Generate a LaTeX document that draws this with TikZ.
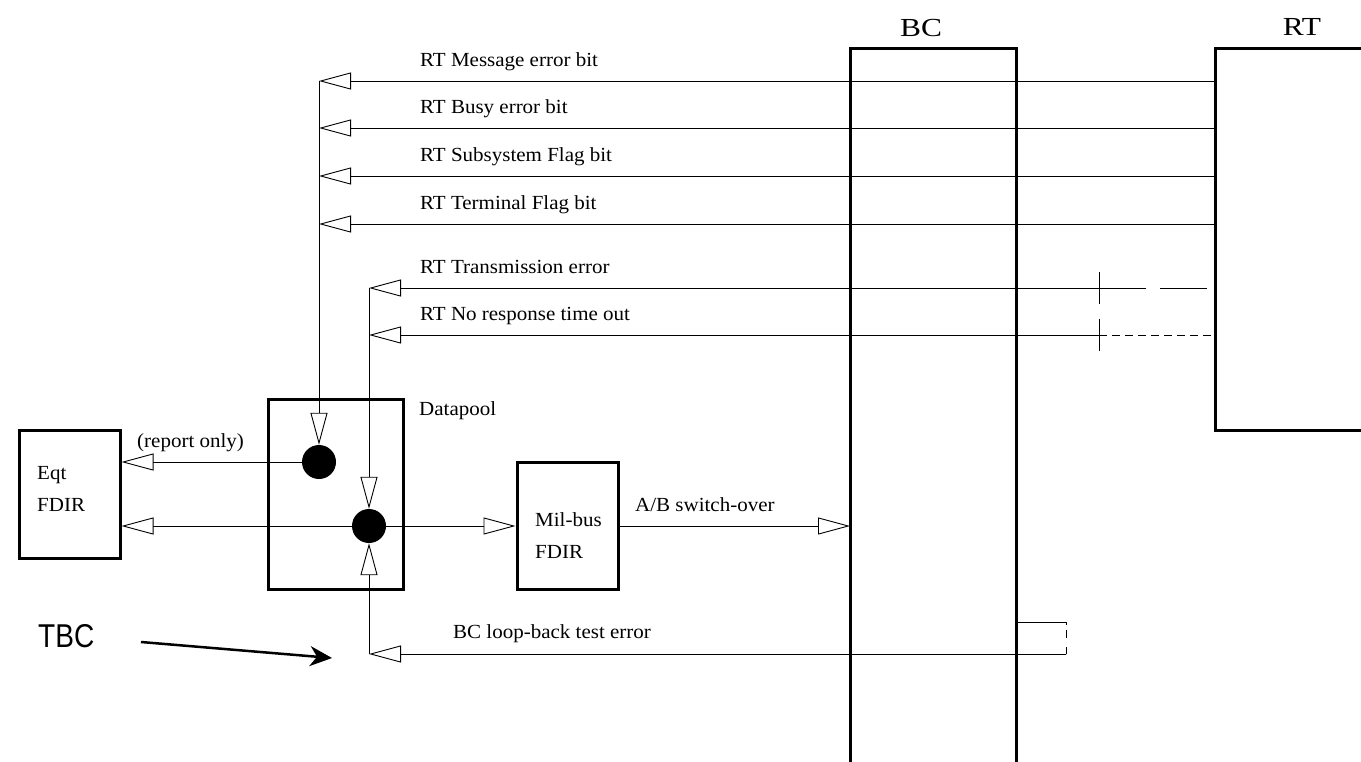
\documentclass[tikz,border=0pt]{standalone}
\usepackage{fontspec}
\setmainfont{Liberation Serif}[FakeStretch=1.05]
\newfontfamily\tbcfont{Liberation Sans}
\usepackage{tikz}
\usetikzlibrary{arrows.meta}

\begin{document}
\begin{tikzpicture}[x=1pt,y=-1pt,>={Triangle[open,length=32pt,width=17pt]},
  sig/.style={line width=0.9pt},
  frame/.style={draw,line width=3pt,inner sep=0pt},
  blob/.style={circle,fill=black,inner sep=0pt,minimum size=34pt},
  lbl/.style={inner sep=0pt,anchor=base west,font=\fontsize{20}{24}\selectfont}]
  \useasboundingbox (0,0) rectangle (1361,761);
  % boxes and data points
  \node[frame,minimum width=101pt,minimum height=128pt] (eqt) at (69.5,494) {};
  \node[frame,minimum width=135pt,minimum height=190pt] (dpool) at (335.5,494) {};
  \node[frame,minimum width=101pt,minimum height=127pt] (milbus) at (567.5,525.5) {};
  \node[blob] (dotA) at (319,462) {};
  \node[blob] (dotB) at (369,526) {};
  % BC and RT
  \draw[line width=3pt] (850,764) -- (850,48) -- (1016,48) -- (1016,764);
  \draw[line width=3pt] (1364,430) -- (1215,430) -- (1215,48) -- (1364,48);
  \node[inner sep=0pt,anchor=base,font=\fontsize{26}{30}\selectfont] (bctitle) at (921,36) {\scalebox{1.15}[1]{BC}};
  \node[inner sep=0pt,anchor=base,font=\fontsize{26}{30}\selectfont] (rttitle) at (1302,35) {\scalebox{1.15}[1]{RT}};
  \coordinate (bcin) at (850,526);
  % RT status bits
  \coordinate (rt1) at (1215,81);  \coordinate (j1) at (319,81);
  \coordinate (rt2) at (1215,128); \coordinate (j2) at (319,128);
  \coordinate (rt3) at (1215,176); \coordinate (j3) at (319,176);
  \coordinate (rt4) at (1215,224); \coordinate (j4) at (319,224);
  \draw[sig,->] (rt1) -- (j1);
  \draw[sig,->] (rt2) -- (j2);
  \draw[sig,->] (rt3) -- (j3);
  \draw[sig,->] (rt4) -- (j4);
  \draw[sig,->] (j1) -- (dotA.north);
  \node[lbl] (msg) at (420,66) {RT Message error bit};
  \node[lbl] (busy) at (420,113) {RT Busy error bit};
  \node[lbl] (subsys) at (420,161) {RT Subsystem Flag bit};
  \node[lbl] (term) at (420,209) {RT Terminal Flag bit};
  % transmission and time out
  \coordinate (tx1) at (1146,288); \coordinate (tx2) at (1160,288); \coordinate (tx3) at (1207,288);
  \coordinate (k1) at (369,288);
  \draw[sig,->] (tx1) -- (k1);
  \draw[sig] (tx2) -- (tx3);
  \draw[sig] (1099,272) -- (1099,304);
  \coordinate (nr) at (1099,335); \coordinate (rt6) at (1215,335); \coordinate (k2) at (369,335);
  \draw[sig,->] (nr) -- (k2);
  \draw[sig,dash pattern=on 8pt off 5pt] (nr) -- (rt6);
  \draw[sig] (1099,319) -- (1099,351);
  \draw[sig,->] (k1) -- (dotB.north);
  \node[lbl] (txerr) at (420,273) {RT Transmission error};
  \node[lbl] (noresp) at (420,320) {RT No response time out};
  % BC loop-back
  \coordinate (lb1) at (1016,622); \coordinate (lb2) at (1066,622); \coordinate (lb3) at (1066,654);
  \coordinate (k3) at (369,654);
  \draw[sig] (lb1) -- (lb2);
  \draw[sig,dash pattern=on 3pt off 5pt on 8pt off 9pt on 7pt off 0pt] (lb2) -- (lb3);
  \draw[sig,->] (lb3) -- (k3);
  \draw[sig,->] (k3) -- (dotB.south);
  \node[lbl] (loopb) at (453,638) {BC loop-back test error};
  % datapool outputs
  \draw[sig,->] (dotA) -- (eqt.east |- dotA);
  \draw[sig,->] (dotB) -- (eqt.east |- dotB);
  \draw[sig,->] (dotB) -- (milbus.west |- dotB);
  \draw[sig,->] (milbus.east |- dotB) -- (bcin);
  \node[lbl] (report) at (137,447) {(report only)};
  \node[lbl] (dplbl) at (419,415) {Datapool};
  \node[lbl] (eqt1) at (37,479) {Eqt};
  \node[lbl] (eqt2) at (37,511) {FDIR};
  \node[lbl] (mil1) at (535,526) {Mil-bus};
  \node[lbl] (mil2) at (535,558) {FDIR};
  \node[lbl] (abswitch) at (635,511) {A/B switch-over};
  % TBC
  \node[inner sep=0pt,anchor=base west,font=\tbcfont\fontsize{33}{38}\selectfont] (tbc) at (38,647) {\scalebox{0.85}[1]{TBC}};
  \coordinate (tbcA) at (141,642); \coordinate (tbcB) at (332,658);
  \draw[line width=2.5pt,-{Stealth[length=22pt,width=20pt,inset=7pt]}] (tbcA) -- (tbcB);
\end{tikzpicture}
\end{document}
